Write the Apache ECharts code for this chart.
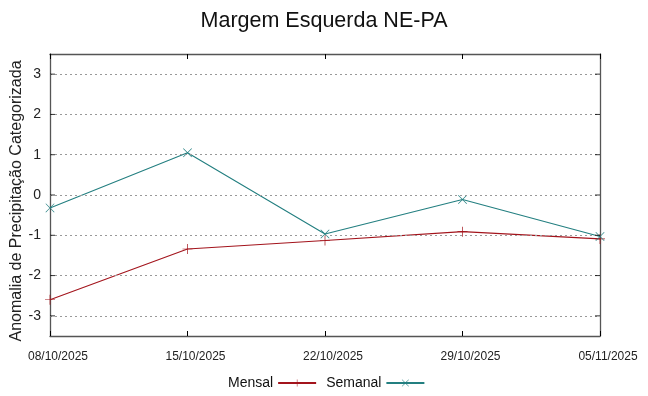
<!DOCTYPE html>
<html><head><meta charset="utf-8">
<script src="https://cdn.jsdelivr.net/npm/echarts@6/dist/echarts.min.js"></script>
<style>html,body{margin:0;padding:0;background:#fff}#c{width:648px;height:396px}</style>
</head><body><div id="c"></div>
<script>
var categories = ['08/10/2025','15/10/2025','22/10/2025','29/10/2025','05/11/2025'];
var mensal = [-2.6, -1.34, -1.13, -0.91, -1.09];
var semanal = [-0.32, 1.05, -0.97, -0.11, -1.03];
var yTicks = [-3,-2,-1,0,1,2,3];

var plus = 'path://M-0.7,-10 L0.7,-10 L0.7,-0.7 L10,-0.7 L10,0.7 L0.7,0.7 L0.7,10 L-0.7,10 L-0.7,0.7 L-10,0.7 L-10,-0.7 L-0.7,-0.7 Z';
var cross = 'path://M-7.5,-8.4 L0,-0.9 L7.5,-8.4 L8.4,-7.5 L0.9,0 L8.4,7.5 L7.5,8.4 L0,0.9 L-7.5,8.4 L-8.4,7.5 L-0.9,0 L-8.4,-7.5 Z';
var red = '#a3141c', teal = '#237f80';
var font = 'Liberation Sans, Arial, sans-serif';

var chart = echarts.init(document.getElementById('c'));
chart.setOption({
  animation: false,
  title: {text: 'Margem Esquerda NE-PA', left: 'center', top: 5,
    textStyle: {fontFamily: font, fontSize: 21.5, fontWeight: 'normal', color: '#111'}},
  legend: {
    bottom: 1, left: 223, align: 'right', itemWidth: 38, itemHeight: 9, itemGap: 9,
    textStyle: {fontFamily: font, fontSize: 14, color: '#111'},
    data: [{name: 'Mensal'}, {name: 'Semanal'}]
  },
  grid: {left: 50, right: 48, top: 54, bottom: 60, containLabel: false, outerBoundsMode: 'none'},
  xAxis: [{
    type: 'category', data: categories, boundaryGap: false,
    axisLine: {onZero: false, lineStyle: {color: '#555', width: 1.3}},
    axisTick: {inside: true, length: 5, alignWithLabel: true, lineStyle: {color: '#000'}},
    axisLabel: {fontFamily: font, fontSize: 12, color: '#222', margin: 15, padding: [0, 0, 0, 16],
      showMinLabel: true, showMaxLabel: true, hideOverlap: false},
    splitLine: {show: false}
  },{
    type: 'category', data: categories, boundaryGap: false, position: 'top',
    axisLine: {onZero: false, lineStyle: {color: '#555', width: 1.3}},
    axisTick: {inside: true, length: 5, lineStyle: {color: '#000'}},
    axisLabel: {show: false}, splitLine: {show: false}
  }],
  yAxis: [{
    type: 'value', min: -3.5, max: 3.5, interval: 0.5,
    name: 'Anomalia de Precipitação Categorizada', nameLocation: 'middle', nameGap: 25,
    nameMoveOverlap: false,
    nameTextStyle: {fontFamily: font, fontSize: 16, color: '#222', padding: [0, 12, 0, 0]},
    axisLine: {show: true, onZero: false, lineStyle: {color: '#555', width: 1.3}},
    axisTick: {show: false},
    axisLabel: {fontFamily: font, fontSize: 14, color: '#222', margin: 9,
      formatter: function(v){ return yTicks.indexOf(v) >= 0 ? String(v) : ''; }},
    splitLine: {show: false}
  },{
    type: 'value', min: -3.5, max: 3.5, interval: 0.5, position: 'right',
    axisLine: {show: true, onZero: false, lineStyle: {color: '#555', width: 1.3}},
    axisTick: {show: false}, axisLabel: {show: false}, splitLine: {show: false}
  }],
  series: [{
    name: 'Mensal', type: 'line', data: mensal, xAxisIndex: 0, yAxisIndex: 0,
    symbol: plus, symbolSize: 10, showAllSymbol: true,
    lineStyle: {color: red, width: 1.1}, itemStyle: {color: red},
    z: 3,
    markLine: {
      silent: true, symbol: 'none', label: {show: false},
      lineStyle: {color: '#999', type: [2, 3], width: 1},
      data: yTicks.map(function(v){ return {yAxis: v}; })
    }
  },{
    name: 'Semanal', type: 'line', data: semanal, xAxisIndex: 0, yAxisIndex: 0,
    symbol: cross, symbolSize: 9, showAllSymbol: true,
    lineStyle: {color: teal, width: 1.1}, itemStyle: {color: teal},
    z: 4
  },{
    name: 'ticksL', type: 'scatter', silent: true, symbol: 'rect', symbolSize: [5, 1],
    symbolOffset: [2.5, 0], itemStyle: {color: '#000'},
    data: yTicks.map(function(v){ return [categories[0], v]; }), z: 5
  },{
    name: 'ticksR', type: 'scatter', silent: true, symbol: 'rect', symbolSize: [5, 1],
    symbolOffset: [-2.5, 0], itemStyle: {color: '#000'},
    data: yTicks.map(function(v){ return [categories[4], v]; }), z: 5
  }]
});
</script></body></html>
